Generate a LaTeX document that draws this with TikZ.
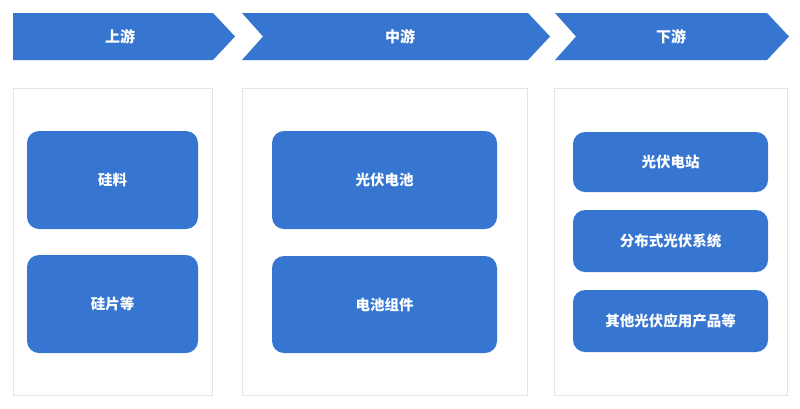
\documentclass[tikz,border=0pt]{standalone}
\usepackage{fontspec}
\newfontfamily\cjk{Noto Sans CJK SC}
\definecolor{mainblue}{RGB}{54,118,208}
\definecolor{panelgray}{RGB}{228,228,228}
\begin{document}
\begin{tikzpicture}[x=1pt,y=-1pt,
  chev/.style={fill=mainblue,draw=none},
  headtext/.style={text=white,font=\cjk\bfseries\fontsize{15}{17}\selectfont},
  panel/.style={draw=panelgray,line width=1pt,fill=white},
  item/.style={fill=mainblue,draw=none,rounded corners=12pt,text=white,inner sep=0pt,
    font=\cjk\bfseries\fontsize{14.5}{17}\selectfont}]
\useasboundingbox (0,0) rectangle (800,408);
\fill[white] (0,0) rectangle (800,408);
% chevrons
\fill[chev] (13,13) -- (213,13) -- (235,36.5) -- (213,60) -- (13,60) -- cycle;
\fill[chev] (242,13) -- (528,13) -- (550,36.5) -- (528,60) -- (242,60) -- (263,36.5) -- cycle;
\fill[chev] (555,13) -- (767,13) -- (789,36.5) -- (767,60) -- (555,60) -- (576,36.5) -- cycle;
\node[headtext] (h1) at (120,37) {上游};
\node[headtext] (h2) at (400,37) {中游};
\node[headtext] (h3) at (671,37) {下游};
% panels
\draw[panel] (13,88) rectangle (212,395);
\draw[panel] (242,88) rectangle (527,395);
\draw[panel] (554,88) rectangle (787,395);
% items
\node[item,minimum width=171pt,minimum height=98pt] (a1) at (112.5,180) {硅料};
\node[item,minimum width=171pt,minimum height=98pt] (a2) at (112.5,304) {硅片等};
\node[item,minimum width=225pt,minimum height=98pt] (b1) at (384.5,180) {光伏电池};
\node[item,minimum width=225pt,minimum height=97pt] (b2) at (384.5,304.5) {电池组件};
\node[item,minimum width=195pt,minimum height=60pt] (c1) at (670.5,162) {光伏电站};
\node[item,minimum width=195pt,minimum height=62pt] (c2) at (670.5,241) {分布式光伏系统};
\node[item,minimum width=195pt,minimum height=62pt] (c3) at (670.5,321) {其他光伏应用产品等};
\end{tikzpicture}
\end{document}
